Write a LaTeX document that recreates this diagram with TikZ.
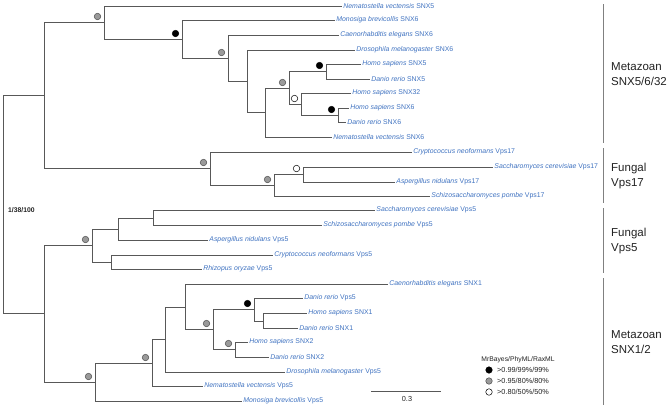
\documentclass[tikz,border=0pt]{standalone}
\usepackage{fontspec}
\setmainfont{Liberation Sans}
\usetikzlibrary{calc}
\definecolor{brc}{HTML}{585858}
\definecolor{leafc}{HTML}{3F72C0}
\definecolor{dotg}{HTML}{9A9A9A}
\definecolor{bkt}{HTML}{808080}
\definecolor{txt}{HTML}{222222}
\newcommand\myleaf[5]{%
  \coordinate (#1) at (#2,#3);
  \node[leaflab] (#1t) at (#1) {\textit{#4} #5};}
\begin{document}
\begin{tikzpicture}[x=1pt,y=-1pt,
  br/.style={draw=brc,line width=0.8pt},
  leaflab/.style={anchor=west,inner sep=1.2pt,text=leafc,font=\fontsize{6.9}{8}\selectfont},
  dotb/.style={circle,draw=black,line width=0.5pt,fill=black,minimum size=6.5pt,inner sep=0pt},
  dotgr/.style={circle,draw=black!70,line width=0.5pt,fill=dotg,minimum size=6.5pt,inner sep=0pt},
  dotw/.style={circle,draw=black,line width=0.5pt,fill=white,minimum size=6.5pt,inner sep=0pt},
  bracket/.style={draw=bkt,line width=0.9pt},
  cladelab/.style={anchor=west,align=left,text=txt,inner sep=0pt,font=\fontsize{11.5}{15}\selectfont},
  smalltxt/.style={text=txt,inner sep=0pt,font=\fontsize{7.3}{8}\selectfont}]
\useasboundingbox (0,0) rectangle (668,407);
% leaves
\myleaf{L1}{342}{6}{Nematostella vectensis}{SNX5}
\myleaf{L2}{335}{20}{Monosiga brevicollis}{SNX6}
\myleaf{L3}{339}{35}{Caenorhabditis elegans}{SNX6}
\myleaf{L4}{355}{50}{Drosophila melanogaster}{SNX6}
\myleaf{L5}{361}{64}{Homo sapiens}{SNX5}
\myleaf{L6}{370}{79}{Danio rerio}{SNX5}
\myleaf{L7}{351}{93}{Homo sapiens}{SNX32}
\myleaf{L8}{349}{108}{Homo sapiens}{SNX6}
\myleaf{L9}{346}{122}{Danio rerio}{SNX6}
\myleaf{L10}{332}{137}{Nematostella vectensis}{SNX6}
\myleaf{L11}{412}{152}{Cryptococcus neoformans}{Vps17}
\myleaf{L12}{493}{167}{Saccharomyces cerevisiae}{Vps17}
\myleaf{L13}{395}{182}{Aspergillus nidulans}{Vps17}
\myleaf{L14}{430}{196}{Schizosaccharomyces pombe}{Vps17}
\myleaf{L15}{375}{210}{Saccharomyces cerevisiae}{Vps5}
\myleaf{L16}{322}{225}{Schizosaccharomyces pombe}{Vps5}
\myleaf{L17}{208}{240}{Aspergillus nidulans}{Vps5}
\myleaf{L18}{273}{255}{Cryptococcus neoformans}{Vps5}
\myleaf{L19}{202}{269}{Rhizopus oryzae}{Vps5}
\myleaf{L20}{388}{284}{Caenorhabditis elegans}{SNX1}
\myleaf{L21}{303}{298}{Danio rerio}{Vps5}
\myleaf{L22}{307}{313}{Homo sapiens}{SNX1}
\myleaf{L23}{298}{328}{Danio rerio}{SNX1}
\myleaf{L24}{248}{342}{Homo sapiens}{SNX2}
\myleaf{L25}{269}{357}{Danio rerio}{SNX2}
\myleaf{L26}{285}{372}{Drosophila melanogaster}{Vps5}
\myleaf{L27}{203}{386}{Nematostella vectensis}{Vps5}
\myleaf{L28}{242}{401}{Monosiga brevicollis}{Vps5}
% internal nodes
\coordinate (root) at (3,204);
\coordinate (Up) at (44,95);
\coordinate (A) at (104,22);
\coordinate (B) at (182,39);
\coordinate (C) at (228,58);
\coordinate (D) at (247,81);
\coordinate (E) at (265,112);
\coordinate (F) at (289,88);
\coordinate (G) at (326,71);
\coordinate (H) at (301,104);
\coordinate (I) at (338,115);
\coordinate (J) at (210,168);
\coordinate (K) at (274,185);
\coordinate (Lq) at (303,174);
\coordinate (Low) at (44,313);
\coordinate (N) at (92,245);
\coordinate (O) at (118,229);
\coordinate (P) at (153,218);
\coordinate (Q) at (111,262);
\coordinate (R) at (95,382);
\coordinate (S) at (152,363);
\coordinate (T) at (165,339);
\coordinate (U) at (185,307);
\coordinate (V) at (213,329);
\coordinate (W) at (254,309);
\coordinate (X) at (263,321);
\coordinate (Y) at (235,349);
% branches
\draw[br] (root) |- (Up); \draw[br] (root) |- (Low);
\draw[br] (Up) |- (A); \draw[br] (Up) |- (J);
\draw[br] (A) |- (L1); \draw[br] (A) |- (B);
\draw[br] (B) |- (L2); \draw[br] (B) |- (C);
\draw[br] (C) |- (L3); \draw[br] (C) |- (D);
\draw[br] (D) |- (L4); \draw[br] (D) |- (E);
\draw[br] (E) |- (F); \draw[br] (E) |- (L10);
\draw[br] (F) |- (G); \draw[br] (F) |- (H);
\draw[br] (G) |- (L5); \draw[br] (G) |- (L6);
\draw[br] (H) |- (L7); \draw[br] (H) |- (I);
\draw[br] (I) |- (L8); \draw[br] (I) |- (L9);
\draw[br] (J) |- (L11); \draw[br] (J) |- (K);
\draw[br] (K) |- (Lq); \draw[br] (K) |- (L14);
\draw[br] (Lq) |- (L12); \draw[br] (Lq) |- (L13);
\draw[br] (Low) |- (N); \draw[br] (Low) |- (R);
\draw[br] (N) |- (O); \draw[br] (N) |- (Q);
\draw[br] (O) |- (P); \draw[br] (O) |- (L17);
\draw[br] (P) |- (L15); \draw[br] (P) |- (L16);
\draw[br] (Q) |- (L18); \draw[br] (Q) |- (L19);
\draw[br] (R) |- (S); \draw[br] (R) |- (L28);
\draw[br] (S) |- (T); \draw[br] (S) |- (L27);
\draw[br] (T) |- (U); \draw[br] (T) |- (L26);
\draw[br] (U) |- (L20); \draw[br] (U) |- (V);
\draw[br] (V) |- (W); \draw[br] (V) |- (Y);
\draw[br] (W) |- (L21); \draw[br] (W) |- (X);
\draw[br] (X) |- (L22); \draw[br] (X) |- (L23);
\draw[br] (Y) |- (L24); \draw[br] (Y) |- (L25);
% support dots
\node[dotgr] (dA) at ($(A)+(-6.5,-5.5)$) {};
\node[dotb]  (dB) at ($(B)+(-6.5,-5.5)$) {};
\node[dotgr] (dC) at ($(C)+(-6.5,-5.5)$) {};
\node[dotgr] (dF) at ($(F)+(-6.5,-5.5)$) {};
\node[dotb]  (dG) at ($(G)+(-6.5,-5.5)$) {};
\node[dotw]  (dH) at ($(H)+(-6.5,-5.5)$) {};
\node[dotb]  (dI) at ($(I)+(-6.5,-5.5)$) {};
\node[dotgr] (dJ) at ($(J)+(-6.5,-5.5)$) {};
\node[dotgr] (dK) at ($(K)+(-6.5,-5.5)$) {};
\node[dotw]  (dL) at ($(Lq)+(-6.5,-5.5)$) {};
\node[dotgr] (dN) at ($(N)+(-6.5,-5.5)$) {};
\node[dotgr] (dR) at ($(R)+(-6.5,-5.5)$) {};
\node[dotgr] (dS) at ($(S)+(-6.5,-5.5)$) {};
\node[dotgr] (dV) at ($(V)+(-6.5,-5.5)$) {};
\node[dotb]  (dW) at ($(W)+(-6.5,-5.5)$) {};
\node[dotgr] (dY) at ($(Y)+(-6.5,-5.5)$) {};
% root label
\node[smalltxt,anchor=west,font=\fontsize{6.8}{8}\selectfont\bfseries] (rootlab) at (8,210) {1/38/100};
% clade brackets
\coordinate (b1a) at (603,4);   \coordinate (b1b) at (603,143);
\coordinate (b2a) at (603,148); \coordinate (b2b) at (603,203);
\coordinate (b3a) at (603,208); \coordinate (b3b) at (603,273);
\coordinate (b4a) at (603,278); \coordinate (b4b) at (603,405);
\draw[bracket] (b1a) -- (b1b);
\draw[bracket] (b2a) -- (b2b);
\draw[bracket] (b3a) -- (b3b);
\draw[bracket] (b4a) -- (b4b);
\node[cladelab] (c1) at (611,74.5) {Metazoan\\SNX5/6/32};
\node[cladelab] (c2) at (611,176) {Fungal\\Vps17};
\node[cladelab] (c3) at (611,241.5) {Fungal\\Vps5};
\node[cladelab] (c4) at (611,342.5) {Metazoan\\SNX1/2};
% legend
\node[smalltxt,font=\fontsize{6.8}{8}\selectfont] (legt) at (518,360) {MrBayes/PhyML/RaxML};
\node[dotb]  (lg1) at (489,370) {};
\node[dotgr] (lg2) at (489,381) {};
\node[dotw]  (lg3) at (489,392) {};
\node[smalltxt,anchor=west] (lt1) at (497,370) {>0.99/99\%/99\%};
\node[smalltxt,anchor=west] (lt2) at (497,381) {>0.95/80\%/80\%};
\node[smalltxt,anchor=west] (lt3) at (497,392) {>0.80/50\%/50\%};
% scale bar
\coordinate (sb1) at (371,391); \coordinate (sb2) at (441,391);
\draw[draw=brc,line width=0.8pt] (sb1) -- (sb2);
\node[smalltxt] (sbl) at (407,399) {0.3};
\end{tikzpicture}
\end{document}
